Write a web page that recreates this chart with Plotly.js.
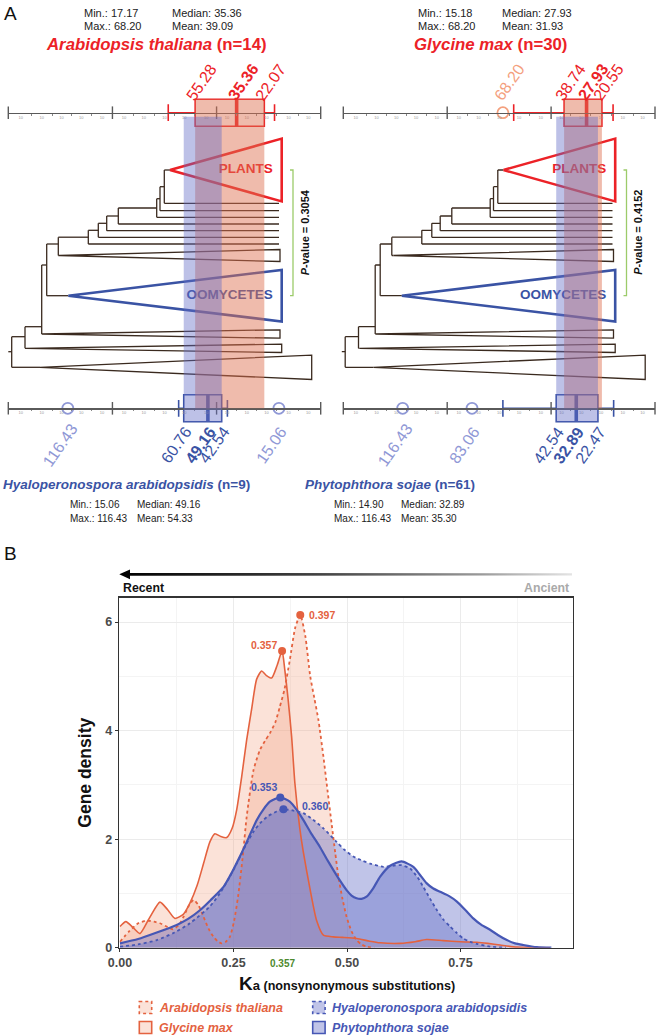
<!DOCTYPE html>
<html><head><meta charset="utf-8">
<script src="https://cdn.plot.ly/plotly-3.0.1.min.js"></script>
<style>html,body{margin:0;padding:0;background:#fff}#chart{width:656px;height:1035px}</style>
</head><body><div id="chart"></div>
<script>
// ---------------- DATA ----------------
// Panel A : box-plot statistics per species
const boxSpecies    = ['Arabidopsis thaliana','Glycine max','Hyaloperonospora arabidopsidis','Phytophthora sojae'];
const boxN          = [14, 30, 9, 61];
const boxMin        = [17.17, 15.18, 15.06, 14.90];
const boxMax        = [68.20, 68.20, 116.43, 116.43];
const boxMedian     = [35.36, 27.93, 49.16, 32.89];
const boxMean       = [39.09, 31.93, 54.33, 35.30];
const boxQ1         = [22.07, 20.55, 42.54, 22.47];
const boxQ3         = [55.28, 38.74, 60.76, 42.54];
const boxLowerFence = [17.17, 15.18, 39.8, 14.90];
const boxUpperFence = [68.20, 63.0, 63.2, 68.2];
const boxOutliers   = [[], [68.20], [116.43, 15.06], [116.43, 83.06]];
const pValues       = ['0.3054', '0.4152'];
const axisMajorVals = [145, 95, 45, -5];
const axisLabelVals = [139,129,119.5,110,100, 89.5,80,70,60.5,50, 40,30.5,21,10.5,1];
const axisDotVals   = [134,124,114.5,105, 85,75,65,55.5, 35.5,26,16,5.5];

// Panel A : tree (internal nodes and tips; depth in tree units, row in figure rows)
const treeNodeId     = ['root','n1','n2','n3','h','g','f','e','d','c','b','a'];
const treeNodeParent = ['','root','n1','n2','n3','h','g','f','e','d','c','b'];
const treeNodeDepth  = [11.7, 25, 41.7, 46.7, 58.3, 88.3, 98.3, 106.7, 118.3, 156.7, 160, 164.3];
const treeNodeRow    = [351.7, 336.7, 326.7, 265, 244, 237.2, 230.3, 223.3, 216, 208, 198.7, 186.7];
const tipLabel   = ['PLANTS','','','','','','','','','OOMYCETES','','',''];
const tipParent  = ['a','a','b','c','d','e','f','g','h','n3','n2','n1','root'];
const tipRow     = [170, 203.3, 210.7, 217.3, 224, 230.7, 237.3, 244, 255.5, 295.7, 334, 348.3, 367.3];
const tipApex    = [170, 279, 279, 279, 279, 279, 279, 279, 60, 68.3, 42, 26, 40];
const tipEdge    = [281.7, 0, 0, 0, 0, 0, 0, 0, 280, 281.7, 280, 281.7, 311.7];
const tipSpread  = [31.4, 0, 0, 0, 0, 0, 0, 0, 6, 25.8, 4.2, 4.2, 12.2];
const treeRootStub = 8.3;

// Panel B : gene density of Ka
const densArabX = [0.000,0.020,0.040,0.059,0.075,0.088,0.105,0.117,0.130,0.140,0.152,0.162,0.173,0.184,0.195,0.206,0.215,0.224,0.233,0.242,0.251,0.260,0.270,0.279,0.294,0.308,0.320,0.330,0.342,0.352,0.362,0.374,0.386,0.397,0.408,0.419,0.428,0.437,0.448,0.457,0.466,0.474,0.481,0.490,0.499,0.510,0.521,0.532,0.543,0.560];
const densArabY = [0.11,0.30,0.45,0.50,0.48,0.45,0.38,0.34,0.42,0.57,0.78,0.88,0.78,0.57,0.35,0.20,0.12,0.08,0.11,0.20,0.48,0.94,1.65,2.41,3.27,3.64,3.82,3.95,4.15,4.44,4.75,5.30,5.90,6.13,5.75,5.00,4.60,4.20,3.52,2.90,2.29,1.75,1.31,0.90,0.57,0.30,0.14,0.06,0.02,0.00];
const densGlyX  = [0.000,0.013,0.030,0.044,0.065,0.088,0.105,0.121,0.140,0.154,0.170,0.184,0.198,0.209,0.222,0.235,0.247,0.257,0.268,0.279,0.290,0.301,0.312,0.322,0.334,0.346,0.357,0.363,0.370,0.378,0.385,0.396,0.404,0.419,0.433,0.448,0.470,0.490,0.521,0.550,0.573,0.617,0.650,0.675,0.712,0.750,0.786,0.810,0.837,0.874,0.947];
const densGlyY  = [0.39,0.48,0.36,0.26,0.55,0.84,0.70,0.54,0.62,0.82,1.15,1.55,1.95,2.10,2.05,2.03,2.20,2.54,3.15,3.83,4.40,4.95,5.10,5.02,4.97,5.20,5.47,5.12,4.60,3.89,3.05,2.20,1.75,1.06,0.50,0.23,0.20,0.19,0.17,0.12,0.09,0.08,0.11,0.15,0.13,0.11,0.10,0.08,0.05,0.01,0.00];
const densHyaX  = [0.000,0.040,0.081,0.120,0.154,0.198,0.220,0.242,0.260,0.279,0.295,0.308,0.325,0.345,0.360,0.380,0.404,0.425,0.448,0.477,0.495,0.514,0.535,0.551,0.580,0.600,0.620,0.639,0.655,0.668,0.683,0.698,0.712,0.727,0.742,0.756,0.771,0.786,0.815,0.850];
const densHyaY  = [0.02,0.06,0.14,0.28,0.45,0.76,1.00,1.31,1.60,1.92,2.15,2.29,2.42,2.51,2.55,2.53,2.48,2.36,2.20,1.95,1.80,1.68,1.60,1.55,1.49,1.51,1.52,1.46,1.30,1.12,0.90,0.69,0.52,0.39,0.27,0.17,0.11,0.07,0.02,0.00];
const densPhyX  = [0.000,0.040,0.081,0.125,0.150,0.176,0.200,0.228,0.246,0.264,0.283,0.301,0.316,0.330,0.353,0.374,0.390,0.404,0.420,0.440,0.455,0.470,0.485,0.499,0.510,0.521,0.532,0.543,0.558,0.573,0.595,0.620,0.646,0.660,0.675,0.690,0.705,0.725,0.742,0.760,0.778,0.796,0.815,0.833,0.852,0.870,0.888,0.918,0.950];
const densPhyY  = [0.08,0.16,0.28,0.42,0.53,0.69,0.88,1.12,1.38,1.68,2.02,2.35,2.55,2.69,2.77,2.69,2.53,2.35,2.12,1.86,1.64,1.43,1.23,1.06,0.96,0.91,0.90,0.94,1.10,1.31,1.51,1.59,1.49,1.35,1.19,1.09,1.03,0.95,0.85,0.70,0.54,0.42,0.33,0.23,0.14,0.08,0.05,0.01,0.00];
const peakX     = [0.397, 0.357, 0.360, 0.353];
const peakY     = [6.13, 5.47, 2.55, 2.77];
const kaTicks   = [0, 0.25, 0.5, 0.75];
const kaTickText= ['0.00','0.25','0.50','0.75'];
const densTicks = [0, 2, 4, 6];
const commonPeakKa = 0.357;

// ---------------- STYLE / HELPERS ----------------
const W = 656, H = 1035;
const px = v => v / W, py = v => 1 - v / H;
const FONT = '"Liberation Sans", Arial, sans-serif';
function fontAvailable(name){
  const c = document.createElement('canvas').getContext('2d');
  const t = 'Hyaloperonospora arabidopsidis 0123';
  c.font = 'bold 16px monospace'; const a = c.measureText(t).width;
  c.font = 'bold 16px "' + name + '", monospace'; const b = c.measureText(t).width;
  return Math.abs(a - b) > 0.5;
}
const hasNarrow = fontAvailable('Liberation Sans Narrow');
const NARROW = hasNarrow ? '"Liberation Sans Narrow", "Liberation Sans", sans-serif' : FONT;
const nsz = s => hasNarrow ? s : Math.round(s * 0.82 * 10) / 10;

const RED = '#EC2227', RED_LIGHT = '#F4A07E', BLUE = '#3A53A4', BLUE_LIGHT = '#8F98D6';
const ORANGE = '#E4623F', BLUE_B = '#4657B5';
const TREE = '#3a2a1f', AXIS = '#5a5a5a';
const spColor = [RED, RED, BLUE, BLUE];
const spLight = [RED_LIGHT, RED_LIGHT, BLUE_LIGHT, BLUE_LIGHT];
const boxXaxis = ['x', 'x2', 'x3', 'x4'];
const boxRowY  = [112.7, 112.7, 408.3, 408.3];
const BOXW = 27;
const fmt = v => v.toFixed(2);

const traces = [];
const shapes = [];
const ann = [];

// ---------- Panel A: trees ----------
function buildTree(xa, pvalText){
  const depth = {}, row = {};
  treeNodeId.forEach((id, i) => { depth[id] = treeNodeDepth[i]; row[id] = treeNodeRow[i]; });
  const kids = {};
  treeNodeId.forEach((id, i) => { const p = treeNodeParent[i]; if (p) (kids[p] = kids[p] || []).push(row[id]); });
  tipParent.forEach((p, i) => (kids[p] = kids[p] || []).push(tipRow[i]));
  const X = [], Y = [];
  const seg = (x0, y0, x1, y1) => { X.push(x0, x1, null); Y.push(y0, y1, null); };
  treeNodeId.forEach((id, i) => {
    const r = kids[id];
    seg(depth[id], Math.min(...r), depth[id], Math.max(...r));
    const p = treeNodeParent[i];
    seg(p ? depth[p] : treeRootStub, row[id], depth[id], row[id]);
  });
  const coloredTri = [];
  tipParent.forEach((p, i) => {
    seg(depth[p], tipRow[i], tipApex[i], tipRow[i]);
    if (tipSpread[i] > 0) {
      const tx = [tipApex[i], tipEdge[i], tipEdge[i], tipApex[i]];
      const ty = [tipRow[i], tipRow[i] - tipSpread[i], tipRow[i] + tipSpread[i], tipRow[i]];
      if (tipLabel[i]) coloredTri.push({i, tx, ty});
      else { X.push(...tx, null); Y.push(...ty, null); }
    }
  });
  traces.push({type:'scatter', mode:'lines', x:X, y:Y, xaxis:xa, yaxis:'y',
    line:{color:TREE, width:1.3}, hoverinfo:'skip', showlegend:false});
  coloredTri.forEach(t => {
    const col = tipLabel[t.i] === 'PLANTS' ? RED : BLUE;
    traces.push({type:'scatter', mode:'lines', x:t.tx, y:t.ty, xaxis:xa, yaxis:'y',
      line:{color:col, width:2.6}, hoverinfo:'skip', showlegend:false});
    traces.push({type:'scatter', mode:'text', x:[tipEdge[t.i] - 9], y:[tipRow[t.i]], xaxis:xa, yaxis:'y',
      text:['<b>' + tipLabel[t.i] + '</b>'], textposition:'middle left',
      textfont:{family:FONT, size:13.5, color:col}, hoverinfo:'skip', showlegend:false});
  });
  const yA = tipRow[tipLabel.indexOf('PLANTS')], yB = tipRow[tipLabel.indexOf('OOMYCETES')];
  traces.push({type:'scatter', mode:'lines', x:[290, 293, 293, 290], y:[yA, yA, yB, yB], xaxis:xa, yaxis:'y',
    line:{color:'#9CCB6A', width:1.3}, hoverinfo:'skip', showlegend:false});
  ann.push({xref:xa, yref:'y', x:304.5, y:(yA + yB) / 2, text:'<b><i>P</i>-value = ' + pvalText + '</b>',
    showarrow:false, textangle:-90, font:{family:FONT, size:11, color:'#111'}, xanchor:'center', yanchor:'middle'});
}
buildTree('x5', pValues[0]);
buildTree('x6', pValues[1]);

// ---------- Panel A: bands ----------
[[0, 2, 'x'], [1, 3, 'x2']].forEach(([t, b, xa]) => {
  shapes.push({type:'rect', xref:xa, yref:'y', x0:boxQ3[t], x1:boxQ1[t], y0:boxRowY[t] - BOXW / 2, y1:boxRowY[b],
    fillcolor:'rgba(222,112,82,0.48)', line:{width:0}, layer:'above'});
  shapes.push({type:'rect', xref:xa, yref:'y', x0:boxQ3[b], x1:boxQ1[b], y0:boxRowY[t] + 4, y1:boxRowY[b] + BOXW / 2,
    fillcolor:'rgba(98,108,198,0.42)', line:{width:0}, layer:'above'});
});

// ---------- Panel A: box plots + axes decorations ----------
boxSpecies.forEach((sp, i) => {
  const xa = boxXaxis[i], yr = boxRowY[i], col = spColor[i];
  traces.push({type:'scatter', mode:'markers', x:axisMajorVals, y:axisMajorVals.map(() => yr), xaxis:xa, yaxis:'y',
    marker:{symbol:'line-ns-open', size:9, color:AXIS, line:{color:AXIS, width:1.4}}, hoverinfo:'skip', showlegend:false, cliponaxis:false});
  traces.push({type:'box', orientation:'h', y:[yr], q1:[boxQ1[i]], median:[boxMedian[i]], q3:[boxQ3[i]],
    lowerfence:[boxLowerFence[i]], upperfence:[boxUpperFence[i]], width:BOXW, whiskerwidth:0.62,
    xaxis:xa, yaxis:'y', fillcolor:'rgba(0,0,0,0)', line:{color:col, width:1.6}, boxpoints:false,
    hoverinfo:'skip', showlegend:false});
  traces.push({type:'scatter', mode:'lines', x:[boxMedian[i], boxMedian[i]], y:[yr - BOXW / 2, yr + BOXW / 2],
    xaxis:xa, yaxis:'y', line:{color:col, width:3.6}, hoverinfo:'skip', showlegend:false});
  if (boxOutliers[i].length) traces.push({type:'scatter', mode:'markers', x:boxOutliers[i], y:boxOutliers[i].map(() => yr),
    xaxis:xa, yaxis:'y', marker:{symbol:'circle-open', size:11, color:spLight[i], line:{color:spLight[i], width:1.8}},
    hoverinfo:'skip', showlegend:false, cliponaxis:false});
  const top = i < 2;
  const ly = top ? 82 : 445, sh = top ? 6 : -8;
  const lab = (v, c, bold) => ann.push({xref:xa, yref:'y', x:v, y:ly, xshift:sh, showarrow:false, textangle:-55,
    text: bold ? '<b>' + fmt(v) + '</b>' : fmt(v), font:{family:FONT, size:16, color:c}, xanchor:'center', yanchor:'middle'});
  boxOutliers[i].forEach(v => lab(v, spLight[i], false));
  lab(boxQ3[i], col, false); lab(boxMedian[i], col, true); lab(boxQ1[i], col, false);
});

// stats + species titles
function stats(i, xMin, xMed, y1, y2, fam, size){
  const f = {family:fam, size:size, color:'#222'};
  ann.push({xref:'paper', yref:'paper', x:px(xMin), y:py(y1), text:'Min.: ' + fmt(boxMin[i]), showarrow:false, xanchor:'left', yanchor:'middle', font:f});
  ann.push({xref:'paper', yref:'paper', x:px(xMin), y:py(y2), text:'Max.: ' + fmt(boxMax[i]), showarrow:false, xanchor:'left', yanchor:'middle', font:f});
  ann.push({xref:'paper', yref:'paper', x:px(xMed), y:py(y1), text:'Median: ' + fmt(boxMedian[i]), showarrow:false, xanchor:'left', yanchor:'middle', font:f});
  ann.push({xref:'paper', yref:'paper', x:px(xMed), y:py(y2), text:'Mean: ' + fmt(boxMean[i]), showarrow:false, xanchor:'left', yanchor:'middle', font:f});
}
function title(i, xc, y, fam, size){
  ann.push({xref:'paper', yref:'paper', x:px(xc), y:py(y), showarrow:false, xanchor:'center', yanchor:'middle',
    text:'<b><i>' + boxSpecies[i] + '</i> (n=' + boxN[i] + ')</b>', font:{family:fam, size:size, color:spColor[i]}});
}
stats(0, 82, 170, 12.5, 25.5, FONT, 11);
stats(1, 416, 500, 12.5, 25.5, FONT, 11);
title(0, 156.3, 44.5, FONT, 16.8);
title(1, 490.8, 44.5, FONT, 16.8);
title(2, 126.2, 484, NARROW, nsz(16.5));
title(3, 390.3, 484, NARROW, nsz(16.5));
stats(2, 67.7, 135, 504, 518.5, NARROW, hasNarrow ? 11.5 : 10);
stats(3, 332.3, 399, 504, 518.5, NARROW, hasNarrow ? 11.5 : 10);
ann.push({xref:'paper', yref:'paper', x:px(2), y:py(14), text:'A', showarrow:false, xanchor:'left', yanchor:'middle', font:{family:FONT, size:19, color:'#111'}});
ann.push({xref:'paper', yref:'paper', x:px(2), y:py(553), text:'B', showarrow:false, xanchor:'left', yanchor:'middle', font:{family:FONT, size:19, color:'#111'}});

// ---------- Panel B ----------
const ORF = 'rgba(244,168,136,0.33)', BLF = 'rgba(104,114,200,0.42)';
const densSeries = [
  {name:'Arabidopsis thaliana', x:densArabX, y:densArabY, fill:ORF, col:ORANGE, dash:'dot', w:1.8},
  {name:'Glycine max', x:densGlyX, y:densGlyY, fill:ORF, col:ORANGE, dash:'solid', w:1.6},
  {name:'Hyaloperonospora arabidopsidis', x:densHyaX, y:densHyaY, fill:BLF, col:BLUE_B, dash:'dot', w:1.8},
  {name:'Phytophthora sojae', x:densPhyX, y:densPhyY, fill:BLF, col:BLUE_B, dash:'solid', w:2.2}
];
densSeries.forEach(s => traces.push({type:'scatter', mode:'lines', name:s.name, x:s.x, y:s.y, xaxis:'x7', yaxis:'y2',
  fill:'tozeroy', fillcolor:s.fill, line:{width:0, color:'rgba(0,0,0,0)', shape:'spline', smoothing:0.6}, hoverinfo:'skip', showlegend:false}));
densSeries.forEach(s => traces.push({type:'scatter', mode:'lines', name:s.name, x:s.x, y:s.y, xaxis:'x7', yaxis:'y2',
  line:{color:s.col, width:s.w, dash:s.dash, shape:'spline', smoothing:0.6}, hoverinfo:'skip', showlegend:false}));
const peakCol = [ORANGE, ORANGE, BLUE_B, BLUE_B];
traces.push({type:'scatter', mode:'markers', x:peakX, y:peakY, xaxis:'x7', yaxis:'y2',
  marker:{size:8, color:peakCol}, hoverinfo:'skip', showlegend:false});
const peakLab = [{xa:'left', xs:7, ys:0}, {xa:'right', xs:-3, ys:6}, {xa:'left', xs:17, ys:3}, {xa:'right', xs:-1, ys:10}];
peakX.forEach((v, i) => ann.push({xref:'x7', yref:'y2', x:v, y:peakY[i], text:'<b>' + v.toFixed(3) + '</b>', showarrow:false,
  xanchor:peakLab[i].xa, yanchor:'middle', xshift:peakLab[i].xs, yshift:peakLab[i].ys, font:{family:FONT, size:10.5, color:peakCol[i]}}));
ann.push({xref:'x7', yref:'paper', x:commonPeakKa, y:py(963), text:'<b>' + commonPeakKa.toFixed(3) + '</b>', showarrow:false,
  xanchor:'center', yanchor:'middle', font:{family:FONT, size:10, color:'#4E8A2E'}});
ann.push({xref:'paper', yref:'paper', x:px(346.5), y:py(983), showarrow:false, xanchor:'center', yanchor:'middle',
  text:'<b><span style="font-size:19px">K</span><span style="font-size:13px">a</span> (nonsynonymous substitutions)</b>',
  font:{family:FONT, size:12.6, color:'#111'}});
ann.push({xref:'paper', yref:'paper', x:px(85), y:py(772.7), showarrow:false, textangle:-90, xanchor:'center', yanchor:'middle',
  text:'<b>Gene density</b>', font:{family:FONT, size:17.5, color:'#111'}});

// arrow with gradient
traces.push({type:'scatter', mode:'lines', x:[119.3, 130, 130, 572, 572, 130, 130, 119.3], y:[574.3, 569.4, 572.9, 573.3, 575.5, 575.8, 579.2, 574.3],
  xaxis:'x8', yaxis:'y', fill:'toself', line:{width:0, color:'rgba(0,0,0,0)'},
  fillgradient:{type:'horizontal', colorscale:[[0,'#000'],[0.45,'#444'],[0.8,'#9a9a9a'],[1,'#e4e4e4']]},
  hoverinfo:'skip', showlegend:false});
ann.push({xref:'paper', yref:'paper', x:px(121), y:py(588), text:'<b>Recent</b>', showarrow:false, xanchor:'left', yanchor:'middle', font:{family:FONT, size:12.3, color:'#111'}});
ann.push({xref:'paper', yref:'paper', x:px(571), y:py(588), text:'<b>Ancient</b>', showarrow:false, xanchor:'right', yanchor:'middle', font:{family:FONT, size:12.3, color:'#aaa'}});

// custom legend
const legX = [139.3, 139.3, 312.7, 312.7], legY = [1007.5, 1027.5, 1007.5, 1027.5];
densSeries.forEach((s, i) => {
  shapes.push({type:'rect', xref:'paper', yref:'paper', x0:px(legX[i]), x1:px(legX[i] + 12.4), y0:py(legY[i] - 6), y1:py(legY[i] + 6),
    fillcolor:s.fill, line:{color:s.col, width:1.6, dash:s.dash}});
  ann.push({xref:'paper', yref:'paper', x:px(legX[i] + 17.4), y:py(legY[i]), text:'<b><i>' + s.name + '</i></b>', showarrow:false,
    xanchor:'left', yanchor:'middle', font:{family:NARROW, size:nsz(15.3), color:s.col}});
});

// ---------------- LAYOUT ----------------
const boxAxis = (d0, d1, pos) => ({domain:[px(d0), px(d1)], range:[145, -5], autorange:false, showgrid:false, zeroline:false,
  showline:true, linecolor:AXIS, linewidth:1.3, ticks:'', tickmode:'array', tickvals:axisLabelVals,
  ticktext:axisLabelVals.map(() => '10'), tickfont:{family:FONT, size:4, color:'#9a9a9a'},
  minor:{tickmode:'array', tickvals:axisDotVals, ticks:'outside', ticklen:1.5, tickcolor:'#888', tickwidth:1},
  anchor:'free', position:pos, fixedrange:true});
const hidden = (d0, d1, r) => ({domain:[d0, d1], range:r, autorange:false, visible:false, fixedrange:true, anchor:'y'});

const layout = {
  width:W, height:H, margin:{l:0, r:0, t:0, b:0}, paper_bgcolor:'#fff', plot_bgcolor:'rgba(0,0,0,0)',
  showlegend:false, hovermode:false,
  xaxis:  boxAxis(8.3, 320.7, py(112.7)),
  xaxis2: boxAxis(343.3, 655, py(112.7)),
  xaxis3: boxAxis(8.3, 320.7, py(408.3)),
  xaxis4: boxAxis(343.3, 655, py(408.3)),
  xaxis5: hidden(0, px(328), [0, 328]),
  xaxis6: hidden(px(333.5), 1, [0, 322.5]),
  xaxis8: hidden(0, 1, [0, W]),
  yaxis:  {domain:[0, 1], range:[H, 0], autorange:false, visible:false, fixedrange:true, anchor:'x5'},
  xaxis7: {domain:[px(119.3), px(572.7)], range:[-0.0015, 0.997], autorange:false, anchor:'y2',
    tickmode:'array', tickvals:kaTicks, ticktext:kaTickText, ticks:'outside', ticklen:3, tickcolor:'#333', tickwidth:1,
    tickfont:{family:FONT, size:12.5, color:'#4a4a4a', weight:'bold'},
    showgrid:true, gridcolor:'#ebebeb', gridwidth:1, zeroline:false,
    minor:{tickmode:'array', tickvals:[0.125, 0.375, 0.625, 0.875], showgrid:true, gridcolor:'#f4f4f4', gridwidth:1, ticks:''},
    showline:true, mirror:true, linecolor:'#333', linewidth:1.5, fixedrange:true},
  yaxis2: {domain:[py(947.7), py(597.7)], range:[0, 6.45], autorange:false, anchor:'x7',
    tickmode:'array', tickvals:densTicks, ticks:'outside', ticklen:3, tickcolor:'#333', tickwidth:1,
    tickfont:{family:FONT, size:12.5, color:'#4a4a4a', weight:'bold'},
    showgrid:true, gridcolor:'#ebebeb', gridwidth:1, zeroline:false,
    minor:{tickmode:'array', tickvals:[1, 3, 5], showgrid:true, gridcolor:'#f4f4f4', gridwidth:1, ticks:''},
    showline:true, mirror:true, linecolor:'#333', linewidth:1.5, fixedrange:true},
  shapes: shapes, annotations: ann
};
Plotly.newPlot('chart', traces, layout, {staticPlot:true, displayModeBar:false});
</script></body></html>
